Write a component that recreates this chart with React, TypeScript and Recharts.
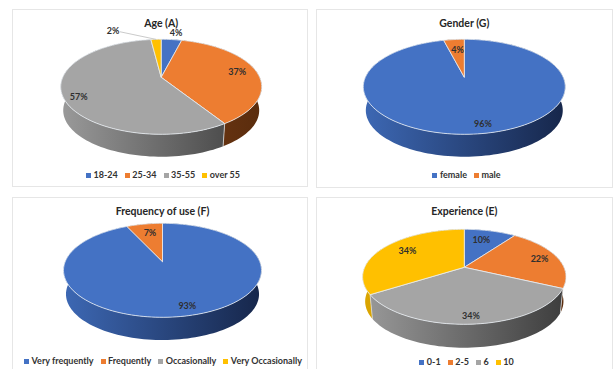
import React from "react";
import { PieChart, Pie, Legend } from "recharts";

// Survey demographics, one pie per question.
const ageNames = ["18-24", "25-34", "35-55", "over 55"];
const ageValues = [4, 37, 57, 2];
const genderNames = ["female", "male"];
const genderValues = [96, 4];
const frequencyNames = ["Very frequently", "Frequently", "Occasionally", "Very Occasionally"];
const frequencyValues = [93, 7, 0, 0];
const experienceNames = ["0-1", "2-5", "6", "10"];
const experienceValues = [10, 22, 34, 34];

const TOP_COLORS = ["#4472c4", "#ed7d31", "#a5a5a5", "#ffc000"];
// Horizontal shading of the pie's side wall, left to right.
const WALL_COLORS = [
  ["#3d68b4", "#16264a"],
  ["#8f4a1c", "#5a2c0d"],
  ["#9a9a9a", "#3c3c3c"],
  ["#dca600", "#8a6c00"],
];
const FONT = "Lato, Carlito, sans-serif";
const INK = "#2f2f2f";
const BOTTOM_SCALE = 0.975;

// Tighter legend spacing than the library's default.
const LEGEND_CSS = `
  .recharts-legend-item { margin-right: 7px !important; }
  .recharts-legend-item:last-child { margin-right: 0 !important; }
  .recharts-legend-item .recharts-surface { margin-right: 2.5px !important; }
`;

type LabelSpot = { r: number; dx: number; dy: number; leader?: boolean };

type PanelConfig = {
  id: string;
  title: string;
  names: string[];
  values: number[];
  box: { left: number; top: number; width: number; height: number };
  centerX: number;
  centerY: number;
  radiusX: number;
  up: number;
  down: number;
  wallBottom: number;
  titleY: number;
  legendY: number;
  legendShift: number;
  spots: LabelSpot[];
};

const panels: PanelConfig[] = [
  {
    id: "age",
    title: "Age (A)",
    names: ageNames,
    values: ageValues,
    box: { left: 12, top: 9, width: 296, height: 178 },
    centerX: 161.2,
    centerY: 77.3,
    radiusX: 100.5,
    up: 38,
    down: 57,
    wallBottom: 156.7,
    titleY: 26.5,
    legendY: 175,
    legendShift: 3,
    spots: [
      { r: 1.2, dx: 3, dy: 3 },
      { r: 0.8, dx: 0, dy: 3 },
      { r: 0.85, dx: 1, dy: 9 },
      { r: 1.25, dx: -42, dy: 2, leader: true },
    ],
  },
  {
    id: "gender",
    title: "Gender (G)",
    names: genderNames,
    values: genderValues,
    box: { left: 316, top: 9, width: 297, height: 179 },
    centerX: 464.3,
    centerY: 77.3,
    radiusX: 101,
    up: 38,
    down: 57,
    wallBottom: 156.7,
    titleY: 26.5,
    legendY: 175,
    legendShift: 2,
    spots: [
      { r: 0.85, dx: 6, dy: 3.5 },
      { r: 0.7, dx: 1, dy: 3.5 },
    ],
  },
  {
    id: "frequency",
    title: "Frequency of use (F)",
    names: frequencyNames,
    values: frequencyValues,
    box: { left: 12, top: 197, width: 296, height: 180 },
    centerX: 162.5,
    centerY: 261.7,
    radiusX: 99,
    up: 38.4,
    down: 55.6,
    wallBottom: 340,
    titleY: 214.5,
    legendY: 360.7,
    legendShift: 3,
    spots: [
      { r: 0.8, dx: 5, dy: 5.5 },
      { r: 0.72, dx: 1, dy: 3 },
    ],
  },
  {
    id: "experience",
    title: "Experience (E)",
    names: experienceNames,
    values: experienceValues,
    box: { left: 316, top: 197, width: 297, height: 180 },
    centerX: 464.3,
    centerY: 267.3,
    radiusX: 101.7,
    up: 38,
    down: 57,
    wallBottom: 347.7,
    titleY: 214.5,
    legendY: 362.3,
    legendShift: 2,
    spots: [
      { r: 0.7, dx: -2, dy: 2.5 },
      { r: 0.8, dx: 1, dy: 3 },
      { r: 0.88, dx: 0, dy: 3.5 },
      { r: 0.72, dx: 2, dy: 1.5 },
    ],
  },
];

// Perspective view of a flat disc: the far half is foreshortened, so the hub
// sits above the middle of the visible ellipse.
function makeProjector(cx: number, cy: number, rx: number, up: number, down: number) {
  const p = (down - up) / (down + up);
  const a = (2 * up * down) / (up + down);
  const b = rx * Math.sqrt(1 - p * p);
  return (angleDeg: number, r = 1) => {
    const rad = (angleDeg * Math.PI) / 180;
    const u = r * Math.cos(rad);
    const v = -r * Math.sin(rad);
    const d = 1 - p * v;
    return { x: cx + (b * u) / d, y: cy + (a * v) / d };
  };
}

function arcAngles(start: number, end: number) {
  const steps = Math.max(2, Math.ceil(Math.abs(end - start) / 2));
  return Array.from({ length: steps + 1 }, (_, i) => start + ((end - start) * i) / steps);
}

function TopSlice(props: any, cfg: PanelConfig) {
  const { cx, cy, outerRadius, startAngle, endAngle, index } = props;
  if (Math.abs(endAngle - startAngle) < 0.01) return <g />;
  const project = makeProjector(cx, cy, outerRadius, cfg.up, cfg.down);
  const rim = arcAngles(startAngle, endAngle).map((t) => project(t));
  const d = `M${cx},${cy} ` + rim.map((q) => `L${q.x.toFixed(2)},${q.y.toFixed(2)}`).join(" ") + " Z";
  return <path d={d} fill={TOP_COLORS[index]} stroke="#e9edf2" strokeWidth={0.8} strokeLinejoin="round" />;
}

function WallSlice(props: any, cfg: PanelConfig) {
  const { cx, cy, outerRadius, startAngle, endAngle, index } = props;
  if (Math.abs(endAngle - startAngle) < 0.01) return <g />;
  const project = makeProjector(cx, cy, outerRadius, cfg.up, cfg.down);
  const depth = cfg.wallBottom - cfg.centerY - cfg.down * BOTTOM_SCALE;
  const lower = (q: { x: number; y: number }) => ({
    x: cx + (q.x - cx) * BOTTOM_SCALE,
    y: cy + (q.y - cy) * BOTTOM_SCALE + depth,
  });
  const rim = arcAngles(startAngle, endAngle).map((t) => project(t));
  const outline = [...rim, ...rim.map(lower).reverse()];
  const d = "M" + outline.map((q) => `${q.x.toFixed(2)},${q.y.toFixed(2)}`).join(" L") + " Z";
  const gradientId = `wall-${cfg.id}-${index}`;
  const [shadeLeft, shadeRight] = WALL_COLORS[index];
  const edge = rim[0];
  const edgeBottom = lower(edge);
  return (
    <g>
      <defs>
        <linearGradient id={gradientId} gradientUnits="userSpaceOnUse" x1={cx - outerRadius} x2={cx + outerRadius} y1={0} y2={0}>
          <stop offset="0" stopColor={shadeLeft} />
          <stop offset="1" stopColor={shadeRight} />
        </linearGradient>
      </defs>
      <path d={d} fill={`url(#${gradientId})`} />
      {edge.y > cy && <line x1={edge.x} y1={edge.y} x2={edgeBottom.x} y2={edgeBottom.y} stroke="#d9d9d9" strokeWidth={0.8} />}
    </g>
  );
}

function SliceLabel(props: any, cfg: PanelConfig) {
  const { cx, cy, outerRadius, midAngle, index, value } = props;
  if (!value) return null;
  const project = makeProjector(cx, cy, outerRadius, cfg.up, cfg.down);
  const spot = cfg.spots[index];
  const at = project(midAngle, spot.r);
  const x = at.x + spot.dx;
  const y = at.y + spot.dy;
  const rimPoint = project(midAngle);
  return (
    <g>
      {spot.leader && <line x1={x + 7} y1={y - 2} x2={rimPoint.x} y2={rimPoint.y} stroke="#bdbdbd" strokeWidth={0.8} />}
      <text x={x} y={y} textAnchor="middle" fontFamily={FONT} fontWeight={700} fontSize={9} fill={INK}>
        {`${value}%`}
      </text>
    </g>
  );
}

function Panel({ cfg }: { cfg: PanelConfig }) {
  const { box } = cfg;
  const data = cfg.names.map((name, i) => ({ name, value: cfg.values[i], fill: TOP_COLORS[i] }));
  const cx = cfg.centerX - box.left;
  const cy = cfg.centerY - box.top;
  const shared = {
    data,
    dataKey: "value",
    nameKey: "name",
    cx,
    cy,
    innerRadius: 0,
    outerRadius: cfg.radiusX,
    startAngle: 90,
    endAngle: -270,
    isAnimationActive: false,
  };
  return (
    <div
      style={{
        position: "absolute",
        left: box.left,
        top: box.top,
        width: box.width,
        height: box.height,
        boxShadow: "inset 0 0 0 1px #e6e6e6",
      }}
    >
      <PieChart width={box.width} height={box.height} margin={{ top: 0, right: 0, bottom: 0, left: 0 }}>
        <Pie {...shared} legendType="none" shape={(p: any) => WallSlice(p, cfg)} labelLine={false} />
        <Pie
          {...shared}
          shape={(p: any) => TopSlice(p, cfg)}
          labelLine={false}
          label={(p: any) => SliceLabel(p, cfg)}
        />
        <text
          x={cfg.centerX - box.left}
          y={cfg.titleY - box.top}
          textAnchor="middle"
          fontFamily={FONT}
          fontWeight={700}
          fontSize={10.5}
          fill="#262626"
        >
          {cfg.title}
        </text>
        <Legend
          layout="horizontal"
          align="center"
          iconType="square"
          iconSize={5}
          itemSorter={null}
          wrapperStyle={{
            position: "absolute",
            left: cfg.legendShift,
            width: box.width,
            top: cfg.legendY - box.top - 9,
            fontFamily: FONT,
            fontWeight: 700,
            fontSize: 9,
            lineHeight: "18px",
          }}
          formatter={(value: string) => <span style={{ color: "#333333" }}>{value}</span>}
        />
      </PieChart>
    </div>
  );
}

export default function App() {
  return (
    <div style={{ position: "absolute", left: 0, top: 0, width: 613, height: 369, overflow: "hidden", background: "#ffffff" }}>
      <style>{LEGEND_CSS}</style>
      {panels.map((cfg) => (
        <Panel key={cfg.id} cfg={cfg} />
      ))}
    </div>
  );
}
